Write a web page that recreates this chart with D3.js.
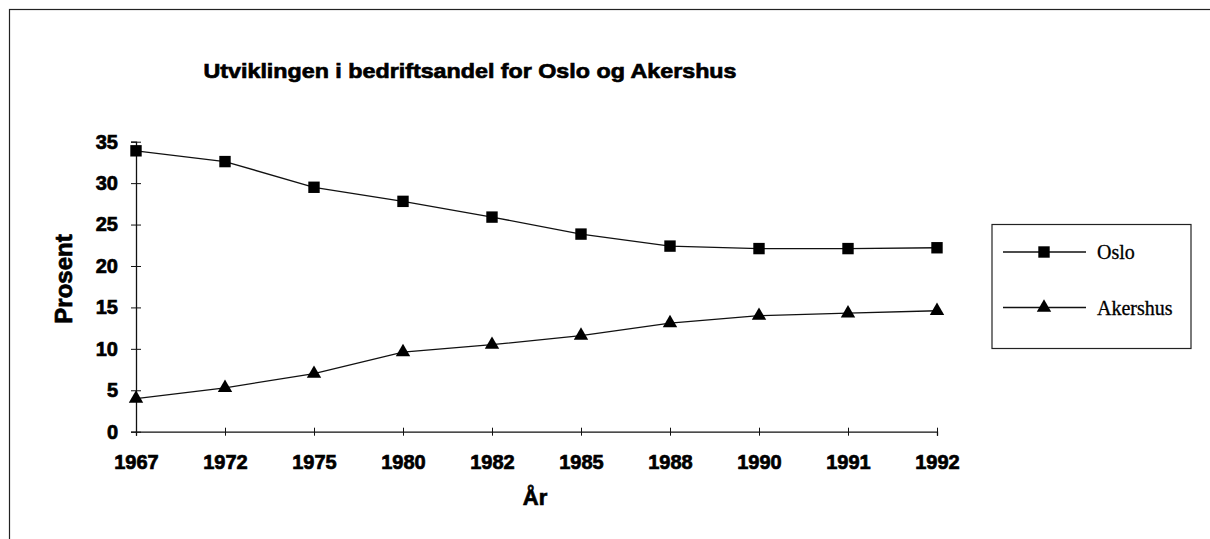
<!DOCTYPE html>
<html>
<head>
<meta charset="utf-8">
<script src="https://cdn.jsdelivr.net/npm/d3@7"></script>
<style>
  body { margin: 0; background: #fff; }
  svg { display: block; }
</style>
</head>
<body>
<div id="chart"></div>
<script>
// data
const years = ['1967', '1972', '1975', '1980', '1982', '1985', '1988', '1990', '1991', '1992'];
const oslo = [33.9, 32.6, 29.5, 27.8, 25.9, 23.85, 22.4, 22.1, 22.1, 22.2];
const akershus = [4.0, 5.3, 7.0, 9.6, 10.5, 11.6, 13.1, 14.0, 14.3, 14.6];
const yTicks = [0, 5, 10, 15, 20, 25, 30, 35];
const seriesNames = ['Oslo', 'Akershus'];

const W = 1210, H = 539;
const svg = d3.select('#chart').append('svg')
  .attr('width', W)
  .attr('height', H);

// outer frame (runs off right and bottom)
svg.append('rect')
  .attr('x', 9.5).attr('y', 9.5)
  .attr('width', W + 20).attr('height', H + 20)
  .attr('fill', 'none')
  .attr('stroke', '#222')
  .attr('stroke-width', 1.2);

const x = d3.scalePoint()
  .domain(years)
  .range([136, 937]);

const y = d3.scaleLinear()
  .domain([0, 35])
  .range([431.7, 141.7]);

const sansBold = "'Liberation Sans', Arial, sans-serif";

// heavy scanned look: bold plus a thin outline
function heavy(sel, size) {
  sel.attr('font-family', sansBold)
    .attr('font-weight', 'bold')
    .attr('font-size', size)
    .attr('fill', '#000')
    .attr('stroke', '#000')
    .attr('stroke-width', 0.7);
}

// title
svg.append('text')
  .attr('x', 470)
  .attr('y', 78)
  .attr('text-anchor', 'middle')
  .attr('textLength', 533)
  .attr('lengthAdjust', 'spacingAndGlyphs')
  .call(heavy, 21)
  .text('Utviklingen i bedriftsandel for Oslo og Akershus');

// y axis
const yAxis = svg.append('g')
  .attr('transform', 'translate(136,0)')
  .call(d3.axisLeft(y).tickValues(yTicks).tickSize(5).tickPadding(13));
yAxis.select('.domain').attr('stroke', '#111').attr('stroke-width', 1.3);
yAxis.selectAll('.tick line').attr('x1', 5).attr('stroke', '#111');
yAxis.selectAll('.tick text').call(heavy, 20);

// x axis
const xAxis = svg.append('g')
  .attr('transform', `translate(0,${y(0)})`)
  .call(d3.axisBottom(x).tickSize(4).tickPadding(19));
xAxis.select('.domain').attr('stroke', '#111').attr('stroke-width', 1.3);
xAxis.selectAll('.tick line').attr('y1', -4).attr('stroke', '#111');
xAxis.selectAll('.tick text').call(heavy, 20);

// axis titles
svg.append('text')
  .attr('transform', 'translate(72,279) rotate(-90)')
  .attr('text-anchor', 'middle')
  .call(heavy, 24)
  .text('Prosent');

svg.append('text')
  .attr('x', 535)
  .attr('y', 505)
  .attr('text-anchor', 'middle')
  .call(heavy, 22)
  .text('År');

// lines + markers
const line = d3.line()
  .x((d, i) => x(years[i]))
  .y(d => y(d));

const square = d3.symbol().type(d3.symbolSquare).size(130);
const triangle = d3.symbol().type(d3.symbolTriangle).size(90);

[oslo, akershus].forEach((vals, k) => {
  svg.append('path')
    .datum(vals)
    .attr('fill', 'none')
    .attr('stroke', '#111')
    .attr('stroke-width', 1.3)
    .attr('d', line);

  svg.append('g').selectAll('path')
    .data(vals)
    .join('path')
    .attr('transform', (d, i) => `translate(${x(years[i])},${y(d)})`)
    .attr('d', k === 0 ? square : triangle)
    .attr('fill', '#000');
});

// legend
const legend = svg.append('g');
legend.append('rect')
  .attr('x', 992).attr('y', 224.5)
  .attr('width', 199).attr('height', 124)
  .attr('fill', 'none')
  .attr('stroke', '#222')
  .attr('stroke-width', 1.2);

seriesNames.forEach((name, k) => {
  const ly = k === 0 ? 252 : 307.5;
  legend.append('line')
    .attr('x1', 1003).attr('x2', 1086)
    .attr('y1', ly).attr('y2', ly)
    .attr('stroke', '#111')
    .attr('stroke-width', 1.3);
  legend.append('path')
    .attr('transform', `translate(1044,${ly})`)
    .attr('d', k === 0 ? square : triangle)
    .attr('fill', '#000');
  legend.append('text')
    .attr('x', 1097)
    .attr('y', ly + 7)
    .attr('font-family', "'Liberation Serif', 'Times New Roman', serif")
    .attr('font-size', 20)
    .attr('fill', '#000')
    .attr('stroke', '#000')
    .attr('stroke-width', 0.3)
    .text(name);
});
</script>
</body>
</html>
